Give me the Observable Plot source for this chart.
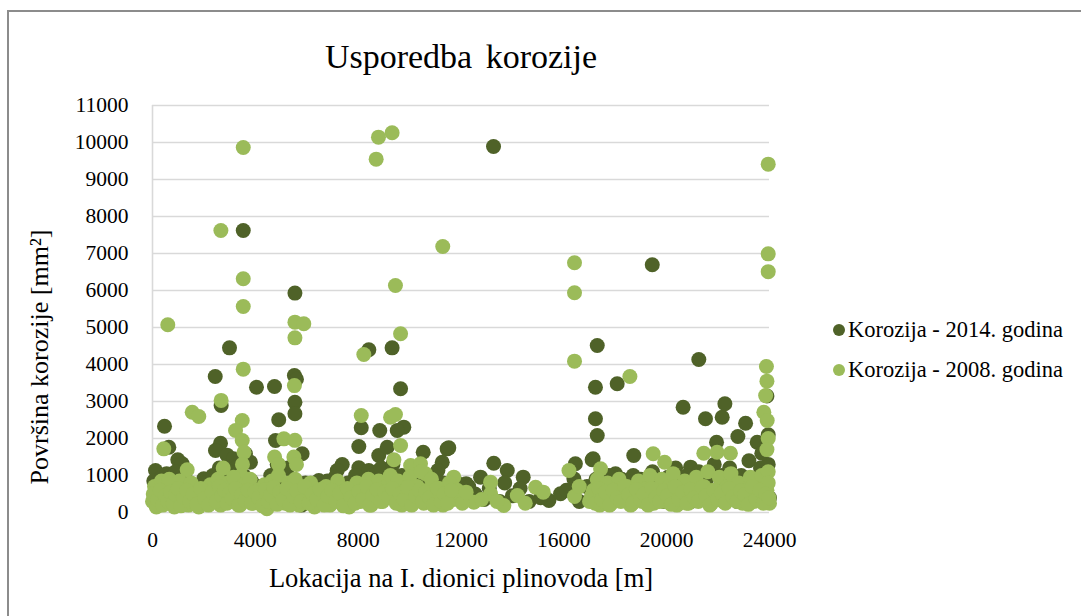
<!DOCTYPE html>
<html>
<head>
<meta charset="utf-8">
<script src="https://cdn.jsdelivr.net/npm/d3@7"></script>
<script src="https://cdn.jsdelivr.net/npm/@observablehq/plot@0.6"></script>
<style>
  html, body { margin:0; padding:0; background:#fff; }
  body { width:1081px; height:616px; overflow:hidden; position:relative; font-family:"Liberation Serif", serif; color:#000; }
  #frame { position:absolute; left:7px; top:10px; width:1300px; height:800px; border:2px solid #8c8c8c; box-sizing:border-box; }
  #chart { position:absolute; left:0; top:0; }
  .txt { position:absolute; white-space:nowrap; line-height:1; font-family:"Liberation Serif", serif; }
  #title { left:461px; top:57px; transform:translate(-50%,-50%); font-size:34px; word-spacing:5px; }
  #xtitle { left:461px; top:578px; transform:translate(-50%,-50%); font-size:26.5px; }
  #ytitle { left:40px; top:357px; transform:translate(-50%,-50%) rotate(-90deg); font-size:26px; }
  .leg { position:absolute; left:833px; font-size:22.5px; display:flex; align-items:center; white-space:nowrap; font-family:"Liberation Serif", serif; }
  .leg span.m { display:inline-block; width:12px; height:12px; border-radius:50%; margin-right:3px; }
</style>
</head>
<body>
<div id="frame"></div>
<div id="chart"></div>
<div id="title" class="txt">Usporedba korozije</div>
<div id="xtitle" class="txt">Lokacija na I. dionici plinovoda [m]</div>
<div id="ytitle" class="txt">Površina korozije [mm²]</div>
<div id="legend"></div>
<script>
// Series names and colours
const seriesNames = ["Korozija - 2014. godina", "Korozija - 2008. godina"];
const seriesColors = ["#4F6228", "#9BBB59"];
const xTicks = [0, 4000, 8000, 12000, 16000, 20000, 24000];
const yTicks = [0,1000,2000,3000,4000,5000,6000,7000,8000,9000,10000,11000];

// 2014 series: location [m], corrosion area [mm2]
const loc2014 = [3530,13265,19440,5540,2995,2440,4045,4745,5520,5600,2670,467,4910,5540,5540,2645,2450,635,117,985,1155,1995,3810,3617,4785,8415,9320,9650,8120,8840,9775,9520,8025,8800,9130,10530,11460,11270,11100,7380,7185,8025,8415,8800,6470,5820,17300,17230,17230,17300,11525,13275,13800,14420,12760,15420,15870,16450,16390,17100,18075,21250,20640,21510,22160,22265,23070,22770,21940,23520,18720,17140,18010,20930,23900,23950,2900,3150,3300,
50,150,250,350,450,550,700,800,900,1050,1200,1300,1450,1600,1750,1850,2050,2200,2350,2500,2600,2750,2850,3000,3100,3250,3400,3550,3700,3850,4000,4150,4300,4450,4600,4700,4850,4950,5100,5250,5350,5450,5650,5800,5950,6100,6300,6500,6650,6800,6950,7100,7250,7450,7600,7750,7900,8100,8250,8350,8550,8700,8900,9000,9200,9350,9500,9700,9850,10000,10150,10300,10450,10650,10800,10950,11150,11300,11450,11650,11850,12200,12300,12550,12900,13100,13500,13700,14000,14300,14650,15100,16100,16600,16900,17050,17250,17450,17600,17750,17900,18100,18250,18400,18550,18700,18850,19000,19150,19300,19450,19600,19750,19900,20050,20200,20350,20500,20650,20800,20950,21100,21250,21400,21550,21700,21850,22000,22150,22300,22450,22600,22750,22900,23050,23200,23350,23500,23650,23800,23900,23950,24000,23700];
const area2014 = [7620,9893,6695,5930,4450,3676,3387,3405,3700,3600,2890,2333,2505,2980,2667,1873,1676,1765,1135,1424,1316,910,1360,1586,1946,4400,4450,3343,2290,2216,2306,2216,1784,1540,1765,1630,1720,1360,1135,1297,1135,1208,1135,1135,865,1586,4514,3387,2532,2081,1748,1333,1135,955,955,324,505,1316,910,1424,3480,4135,2846,2532,2576,2938,2414,2054,1900,1900,1540,1450,1046,1225,3150,2100,1550,1450,1250,
850,400,650,950,300,1050,600,250,1100,750,450,900,350,700,300,550,800,400,1000,600,1200,350,900,1100,500,800,300,1000,600,850,400,700,300,550,1000,450,1300,800,500,1200,300,900,600,200,800,450,700,300,600,850,400,950,550,300,800,450,1000,600,900,350,1000,600,1200,400,900,1300,600,1000,350,800,1100,500,900,350,700,1000,450,800,300,600,800,780,700,500,350,650,300,800,450,650,300,400,600,300,700,350,900,550,250,1000,700,400,900,600,300,1000,500,900,350,700,1100,450,800,300,950,550,1200,400,800,1000,300,700,1100,500,900,350,1300,650,1000,400,1200,700,300,1000,600,1400,400,900,1200,500,800,1300,400,1600];

// 2008 series: location [m], corrosion area [mm2]
const loc2008 = [2660,3530,8700,8790,9320,11290,16415,16415,23950,23950,23950,3530,3530,595,5540,5885,5540,3530,5520,2670,1545,1800,3490,3230,3490,3560,440,1350,5110,9450,8220,9650,16415,8120,9260,9450,9650,9390,10040,10425,10620,11720,13150,13150,12500,13665,14190,14900,16200,16415,18570,19475,19920,21445,21960,22480,17430,23880,23900,23850,23780,23910,23950,23900,5540,5500,5600,4750,4900,3500,3450,
0,80,150,250,350,450,550,650,750,850,950,1050,1150,1250,1400,1500,1650,1800,1950,2100,2250,2400,2550,2650,2750,2850,2950,3050,3150,3300,3400,3550,3650,3800,3900,4050,4200,4350,4450,4550,4650,4800,4900,5000,5150,5300,5400,5550,5700,5850,6000,6150,6300,6450,6600,6750,6900,7050,7200,7350,7500,7650,7800,7950,8100,8250,8400,8500,8650,8800,8950,9100,9250,9400,9550,9700,9850,10000,10150,10300,10450,10550,10700,10850,11000,11150,11300,11400,11550,11700,11850,12050,12200,12800,13400,14500,15200,16600,17000,17150,17300,17400,17550,17700,17850,18000,18150,18300,18450,18600,18750,18900,19050,19200,19350,19500,19650,19800,19950,20100,20250,20400,20550,20700,20850,21000,21150,21300,21450,21600,21750,21900,22050,22200,22350,22500,22650,22800,22950,23100,23250,23400,23550,23700,23800,23900,23950,24000,23950,
30,200,300,400,500,600,700,800,900,1000,1100,1200,1330,1450,1580,1720,1880,2030,2180,2320,2480,2600,2700,2800,2900,3000,3100,3230,3350,3480,3600,3720,3850,3980,4120,4280,4400,4500,4600,4720,4850,4950,5080,5220,5350,5480,5620,5780,5920,6080,6230,6380,6520,6680,6830,6980,7130,7280,7430,7580,7730,7880,8030,8180,8330,8450,8580,8730,8880,9030,9180,9330,9480,9630,9780,9930,10080,10230,10380,10500,10630,10780,10930,11080,11230,11350,11480,11630,
17080,17220,17350,17480,17620,17780,17920,18080,18220,18380,18520,18680,18820,18980,19130,19280,19430,19580,19730,19880,20030,20180,20330,20480,20630,20780,20930,21080,21230,21380,21530,21680,21830,21980,22130,22280,22430,22580,22730,22880,23030,23180,23330,23480,23630,23760,23850,23980];
const area2008 = [7620,9866,9550,10145,10263,7190,6750,5938,9415,6990,6510,6317,5568,5073,5145,5100,4720,3875,3430,3030,2710,2595,2487,2216,1946,1630,1720,1154,1990,6136,4270,4830,4090,2620,2576,2650,1811,1424,1270,1316,1046,955,820,505,278,190,460,684,1135,432,3676,1586,1360,1603,1630,1603,1180,3946,3550,3160,2710,2487,2000,1700,1950,1500,1300,1500,1300,1300,1000,
300,700,150,500,850,250,650,900,350,150,600,850,300,550,200,800,450,150,600,300,750,450,900,200,1200,550,800,300,950,500,200,750,400,900,250,600,300,750,100,450,850,250,1000,550,250,800,400,900,200,650,350,800,150,550,300,700,200,500,850,300,600,150,450,800,300,650,900,200,550,850,300,700,1000,400,850,200,600,950,350,700,1100,250,600,900,300,650,200,500,800,350,600,250,550,350,300,250,550,700,300,600,900,200,500,800,250,600,900,350,700,200,500,850,300,650,1000,250,550,900,300,700,1050,200,500,850,250,600,950,350,700,1100,250,600,950,300,700,1050,400,800,250,600,950,300,700,1000,300,600,1100,250,800,
500,350,600,200,450,300,550,250,480,650,180,420,600,300,500,220,650,380,200,550,300,700,450,600,250,520,380,650,200,480,330,600,250,550,400,180,620,300,470,680,220,560,350,650,200,450,580,300,700,250,500,350,620,200,450,600,300,520,180,650,400,250,560,350,700,200,480,620,300,550,420,650,250,500,350,680,200,450,600,300,550,400,200,650,300,500,250,600,
450,250,650,350,550,200,600,400,300,700,480,250,620,350,500,200,650,400,300,580,450,220,700,350,550,250,620,400,300,680,450,200,600,350,520,250,650,420,300,580,480,220,700,350,600,250,500,400];

const d2014 = loc2014.map((x, i) => ({loc: x, area: area2014[i]}));
const d2008 = loc2008.map((x, i) => ({loc: x, area: area2008[i]}));

const fmt = d => String(d);
const tickFont = { fontFamily: "'Liberation Serif', 'Times New Roman', serif", fontSize: 21.5, fill: "#000" };
const chart = Plot.plot({
  width: 1081,
  height: 616,
  marginLeft: 152,
  marginRight: 312,
  marginTop: 105,
  marginBottom: 104,
  style: { background: "transparent", overflow: "visible" },
  x: { domain: [0, 24000] },
  y: { domain: [0, 11000] },
  marks: [
    Plot.gridY(yTicks, { stroke: "#d9d9d9", strokeOpacity: 1, strokeWidth: 1.6 }),
    Plot.ruleX([0], { stroke: "#d9d9d9", strokeWidth: 1.6 }),
    Plot.axisX(xTicks, { tickSize: 0, tickPadding: 19, tickFormat: fmt, label: null, ...tickFont }),
    Plot.axisY(yTicks, { tickSize: 0, tickPadding: 24, tickFormat: fmt, label: null, ...tickFont }),
    Plot.dot(d2014, { x: "loc", y: "area", r: 7.5, fill: seriesColors[0], stroke: null }),
    Plot.dot(d2008, { x: "loc", y: "area", r: 7.5, fill: seriesColors[1], stroke: null })
  ]
});
document.getElementById("chart").appendChild(chart);

const legend = document.getElementById("legend");
const legTops = [330, 370];
seriesNames.forEach((name, i) => {
  const row = document.createElement("div");
  row.className = "leg";
  row.style.top = (legTops[i] - 12) + "px";
  row.style.height = "24px";
  const m = document.createElement("span");
  m.className = "m";
  m.style.background = seriesColors[i];
  row.appendChild(m);
  row.appendChild(document.createTextNode(name));
  legend.appendChild(row);
});
</script>
</body>
</html>
